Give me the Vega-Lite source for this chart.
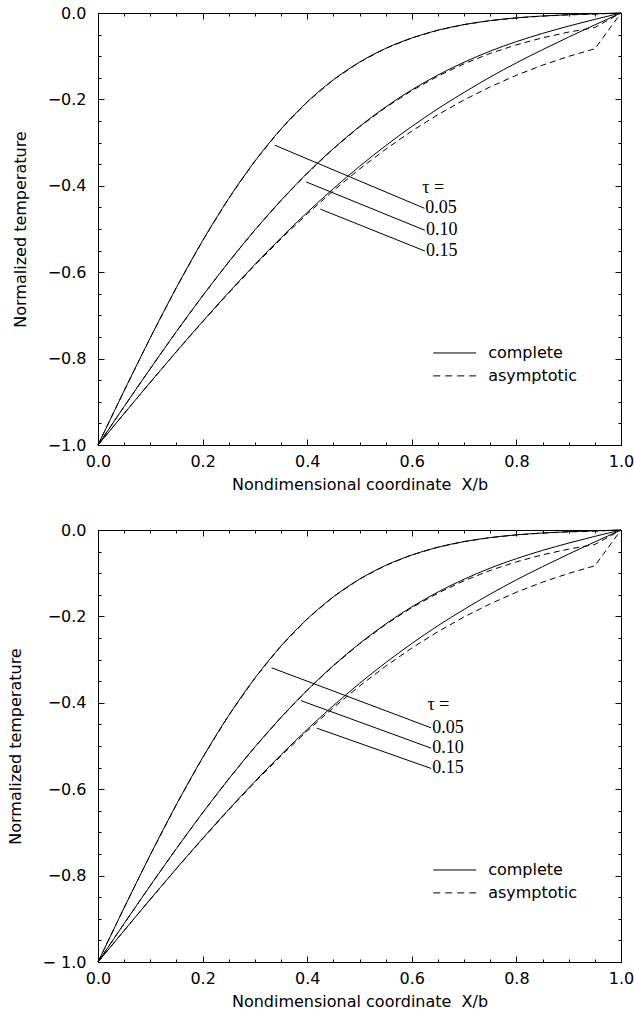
{
  "$schema": "https://vega.github.io/schema/vega-lite/v6.json",
  "background": "white",
  "padding": {"left": 6, "top": 4, "right": 2, "bottom": 4},
  "spacing": 28,
  "config": {
    "view": {"stroke": "black", "strokeWidth": 1},
    "axis": {
      "grid": false, "domain": false, "ticks": true, "tickColor": "black", "tickWidth": 1,
      "labelFont": "DejaVu Sans", "labelFontSize": 16, "labelColor": "black",
      "titleFont": "DejaVu Sans", "titleFontSize": 16, "titleFontWeight": "normal", "titleColor": "black",
      "labelOverlap": false, "labelFlush": false, "labelBound": false
    }
  },
  "datasets": {
    "curves": [
      {"x":0,"T":-1,"tau":"0.05","kind":"complete"},{"x":0.05,"T":-0.8744,"tau":"0.05","kind":"complete"},{"x":0.1,"T":-0.7518,"tau":"0.05","kind":"complete"},{"x":0.15,"T":-0.6353,"tau":"0.05","kind":"complete"},{"x":0.2,"T":-0.5271,"tau":"0.05","kind":"complete"},{"x":0.25,"T":-0.4292,"tau":"0.05","kind":"complete"},{"x":0.3,"T":-0.3428,"tau":"0.05","kind":"complete"},{"x":0.35,"T":-0.2684,"tau":"0.05","kind":"complete"},{"x":0.4,"T":-0.2059,"tau":"0.05","kind":"complete"},{"x":0.45,"T":-0.1547,"tau":"0.05","kind":"complete"},{"x":0.5,"T":-0.1138,"tau":"0.05","kind":"complete"},{"x":0.55,"T":-0.082,"tau":"0.05","kind":"complete"},{"x":0.6,"T":-0.0578,"tau":"0.05","kind":"complete"},{"x":0.65,"T":-0.0398,"tau":"0.05","kind":"complete"},{"x":0.7,"T":-0.0268,"tau":"0.05","kind":"complete"},{"x":0.75,"T":-0.0176,"tau":"0.05","kind":"complete"},{"x":0.8,"T":-0.0112,"tau":"0.05","kind":"complete"},{"x":0.85,"T":-0.0069,"tau":"0.05","kind":"complete"},{"x":0.9,"T":-0.0039,"tau":"0.05","kind":"complete"},{"x":0.95,"T":-0.0018,"tau":"0.05","kind":"complete"},{"x":1,"T":0,"tau":"0.05","kind":"complete"},
      {"x":0,"T":-1,"tau":"0.05","kind":"asymptotic"},{"x":0.05,"T":-0.8744,"tau":"0.05","kind":"asymptotic"},{"x":0.1,"T":-0.7518,"tau":"0.05","kind":"asymptotic"},{"x":0.15,"T":-0.6353,"tau":"0.05","kind":"asymptotic"},{"x":0.2,"T":-0.5271,"tau":"0.05","kind":"asymptotic"},{"x":0.25,"T":-0.4292,"tau":"0.05","kind":"asymptotic"},{"x":0.3,"T":-0.3428,"tau":"0.05","kind":"asymptotic"},{"x":0.35,"T":-0.2684,"tau":"0.05","kind":"asymptotic"},{"x":0.4,"T":-0.2059,"tau":"0.05","kind":"asymptotic"},{"x":0.45,"T":-0.1547,"tau":"0.05","kind":"asymptotic"},{"x":0.5,"T":-0.1138,"tau":"0.05","kind":"asymptotic"},{"x":0.55,"T":-0.082,"tau":"0.05","kind":"asymptotic"},{"x":0.6,"T":-0.0578,"tau":"0.05","kind":"asymptotic"},{"x":0.65,"T":-0.0398,"tau":"0.05","kind":"asymptotic"},{"x":0.7,"T":-0.0268,"tau":"0.05","kind":"asymptotic"},{"x":0.75,"T":-0.0177,"tau":"0.05","kind":"asymptotic"},{"x":0.8,"T":-0.0114,"tau":"0.05","kind":"asymptotic"},{"x":0.85,"T":-0.0072,"tau":"0.05","kind":"asymptotic"},{"x":0.9,"T":-0.0044,"tau":"0.05","kind":"asymptotic"},{"x":0.95,"T":-0.0027,"tau":"0.05","kind":"asymptotic"},{"x":1,"T":0,"tau":"0.05","kind":"asymptotic"},
      {"x":0,"T":-1,"tau":"0.10","kind":"complete"},{"x":0.05,"T":-0.911,"tau":"0.10","kind":"complete"},{"x":0.1,"T":-0.8231,"tau":"0.10","kind":"complete"},{"x":0.15,"T":-0.7373,"tau":"0.10","kind":"complete"},{"x":0.2,"T":-0.6547,"tau":"0.10","kind":"complete"},{"x":0.25,"T":-0.5761,"tau":"0.10","kind":"complete"},{"x":0.3,"T":-0.5022,"tau":"0.10","kind":"complete"},{"x":0.35,"T":-0.4337,"tau":"0.10","kind":"complete"},{"x":0.4,"T":-0.3707,"tau":"0.10","kind":"complete"},{"x":0.45,"T":-0.3138,"tau":"0.10","kind":"complete"},{"x":0.5,"T":-0.2628,"tau":"0.10","kind":"complete"},{"x":0.55,"T":-0.2176,"tau":"0.10","kind":"complete"},{"x":0.6,"T":-0.1779,"tau":"0.10","kind":"complete"},{"x":0.65,"T":-0.1436,"tau":"0.10","kind":"complete"},{"x":0.7,"T":-0.1139,"tau":"0.10","kind":"complete"},{"x":0.75,"T":-0.0882,"tau":"0.10","kind":"complete"},{"x":0.8,"T":-0.0663,"tau":"0.10","kind":"complete"},{"x":0.85,"T":-0.0472,"tau":"0.10","kind":"complete"},{"x":0.9,"T":-0.0303,"tau":"0.10","kind":"complete"},{"x":0.95,"T":-0.0147,"tau":"0.10","kind":"complete"},{"x":1,"T":0,"tau":"0.10","kind":"complete"},
      {"x":0,"T":-1,"tau":"0.10","kind":"asymptotic"},{"x":0.05,"T":-0.911,"tau":"0.10","kind":"asymptotic"},{"x":0.1,"T":-0.8231,"tau":"0.10","kind":"asymptotic"},{"x":0.15,"T":-0.7373,"tau":"0.10","kind":"asymptotic"},{"x":0.2,"T":-0.6547,"tau":"0.10","kind":"asymptotic"},{"x":0.25,"T":-0.5762,"tau":"0.10","kind":"asymptotic"},{"x":0.3,"T":-0.5023,"tau":"0.10","kind":"asymptotic"},{"x":0.35,"T":-0.4339,"tau":"0.10","kind":"asymptotic"},{"x":0.4,"T":-0.3711,"tau":"0.10","kind":"asymptotic"},{"x":0.45,"T":-0.3143,"tau":"0.10","kind":"asymptotic"},{"x":0.5,"T":-0.2636,"tau":"0.10","kind":"asymptotic"},{"x":0.55,"T":-0.2188,"tau":"0.10","kind":"asymptotic"},{"x":0.6,"T":-0.1797,"tau":"0.10","kind":"asymptotic"},{"x":0.65,"T":-0.1461,"tau":"0.10","kind":"asymptotic"},{"x":0.7,"T":-0.1175,"tau":"0.10","kind":"asymptotic"},{"x":0.75,"T":-0.0935,"tau":"0.10","kind":"asymptotic"},{"x":0.8,"T":-0.0736,"tau":"0.10","kind":"asymptotic"},{"x":0.85,"T":-0.0574,"tau":"0.10","kind":"asymptotic"},{"x":0.9,"T":-0.0442,"tau":"0.10","kind":"asymptotic"},{"x":0.95,"T":-0.0336,"tau":"0.10","kind":"asymptotic"},{"x":1,"T":0,"tau":"0.10","kind":"asymptotic"},
      {"x":0,"T":-1,"tau":"0.15","kind":"complete"},{"x":0.05,"T":-0.9271,"tau":"0.15","kind":"complete"},{"x":0.1,"T":-0.8546,"tau":"0.15","kind":"complete"},{"x":0.15,"T":-0.7835,"tau":"0.15","kind":"complete"},{"x":0.2,"T":-0.714,"tau":"0.15","kind":"complete"},{"x":0.25,"T":-0.6467,"tau":"0.15","kind":"complete"},{"x":0.3,"T":-0.582,"tau":"0.15","kind":"complete"},{"x":0.35,"T":-0.5202,"tau":"0.15","kind":"complete"},{"x":0.4,"T":-0.4617,"tau":"0.15","kind":"complete"},{"x":0.45,"T":-0.4066,"tau":"0.15","kind":"complete"},{"x":0.5,"T":-0.3551,"tau":"0.15","kind":"complete"},{"x":0.55,"T":-0.3072,"tau":"0.15","kind":"complete"},{"x":0.6,"T":-0.2627,"tau":"0.15","kind":"complete"},{"x":0.65,"T":-0.2215,"tau":"0.15","kind":"complete"},{"x":0.7,"T":-0.1838,"tau":"0.15","kind":"complete"},{"x":0.75,"T":-0.1483,"tau":"0.15","kind":"complete"},{"x":0.8,"T":-0.1154,"tau":"0.15","kind":"complete"},{"x":0.85,"T":-0.0849,"tau":"0.15","kind":"complete"},{"x":0.9,"T":-0.0557,"tau":"0.15","kind":"complete"},{"x":0.95,"T":-0.0275,"tau":"0.15","kind":"complete"},{"x":1,"T":0,"tau":"0.15","kind":"complete"},
      {"x":0,"T":-1,"tau":"0.15","kind":"asymptotic"},{"x":0.05,"T":-0.9273,"tau":"0.15","kind":"asymptotic"},{"x":0.1,"T":-0.8551,"tau":"0.15","kind":"asymptotic"},{"x":0.15,"T":-0.7842,"tau":"0.15","kind":"asymptotic"},{"x":0.2,"T":-0.715,"tau":"0.15","kind":"asymptotic"},{"x":0.25,"T":-0.6481,"tau":"0.15","kind":"asymptotic"},{"x":0.3,"T":-0.5839,"tau":"0.15","kind":"asymptotic"},{"x":0.35,"T":-0.5228,"tau":"0.15","kind":"asymptotic"},{"x":0.4,"T":-0.4652,"tau":"0.15","kind":"asymptotic"},{"x":0.45,"T":-0.4113,"tau":"0.15","kind":"asymptotic"},{"x":0.5,"T":-0.3613,"tau":"0.15","kind":"asymptotic"},{"x":0.55,"T":-0.3153,"tau":"0.15","kind":"asymptotic"},{"x":0.6,"T":-0.2733,"tau":"0.15","kind":"asymptotic"},{"x":0.65,"T":-0.2353,"tau":"0.15","kind":"asymptotic"},{"x":0.7,"T":-0.2012,"tau":"0.15","kind":"asymptotic"},{"x":0.75,"T":-0.1709,"tau":"0.15","kind":"asymptotic"},{"x":0.8,"T":-0.1441,"tau":"0.15","kind":"asymptotic"},{"x":0.85,"T":-0.1207,"tau":"0.15","kind":"asymptotic"},{"x":0.9,"T":-0.1004,"tau":"0.15","kind":"asymptotic"},{"x":0.95,"T":-0.0828,"tau":"0.15","kind":"asymptotic"},{"x":1,"T":0,"tau":"0.15","kind":"asymptotic"}
    ],
    "leadersTop": [
      {"tau":"0.05","x1":0.338,"y1":-0.306,"x2":0.624,"y2":-0.452},
      {"tau":"0.10","x1":0.398,"y1":-0.391,"x2":0.625,"y2":-0.503},
      {"tau":"0.15","x1":0.425,"y1":-0.454,"x2":0.625,"y2":-0.551}
    ],
    "leadersBottom": [
      {"tau":"0.05","x1":0.332,"y1":-0.319,"x2":0.637,"y2":-0.458},
      {"tau":"0.10","x1":0.388,"y1":-0.395,"x2":0.637,"y2":-0.505},
      {"tau":"0.15","x1":0.419,"y1":-0.459,"x2":0.637,"y2":-0.552}
    ],
    "one": [{}]
  },
  "vconcat": [
    {
      "width": 523, "height": 432,
      "resolve": {"axis": {"x": "independent", "y": "independent"}},
      "layer": [
        {
          "data": {"name": "curves"},
          "transform": [{"filter": "datum.kind == 'complete'"}],
          "mark": {"type": "line", "interpolate": "monotone", "color": "black", "strokeWidth": 1},
          "encoding": {
            "x": {"field": "x", "type": "quantitative", "scale": {"domain": [0, 1], "nice": false, "zero": false},
              "axis": {"orient": "bottom", "title": "Nondimensional coordinate\u00a0 X/b", "values": [0,0.2,0.4,0.6,0.8,1], "format": ".1f", "tickSize": -6, "labelPadding": 14, "titlePadding": 7}},
            "y": {"field": "T", "type": "quantitative", "scale": {"domain": [-1, 0], "nice": false, "zero": false},
              "axis": {"orient": "left", "title": "Normalized temperature", "values": [-1,-0.8,-0.6,-0.4,-0.2,0], "format": ".1f", "tickSize": -6, "labelPadding": 18, "titlePadding": 19}},
            "detail": {"field": "tau"}
          }
        },
        {
          "data": {"name": "curves"},
          "transform": [{"filter": "datum.kind == 'asymptotic'"}],
          "mark": {"type": "line", "color": "black", "strokeWidth": 1, "strokeDash": [6, 4]},
          "encoding": {
            "x": {"field": "x", "type": "quantitative", "axis": {"orient": "top", "title": null, "labels": false, "values": [0,0.2,0.4,0.6,0.8,1], "tickSize": -6}},
            "y": {"field": "T", "type": "quantitative", "axis": {"orient": "right", "title": null, "labels": false, "values": [-1,-0.8,-0.6,-0.4,-0.2,0], "tickSize": -6}},
            "detail": {"field": "tau"}
          }
        },
        {
          "data": {"name": "leadersTop"},
          "mark": {"type": "rule", "color": "black", "strokeWidth": 1},
          "encoding": {
            "x": {"field": "x1", "type": "quantitative", "axis": {"orient": "bottom", "title": null, "labels": false, "values": [0,0.05,0.1,0.15,0.2,0.25,0.3,0.35,0.4,0.45,0.5,0.55,0.6,0.65,0.7,0.75,0.8,0.85,0.9,0.95,1], "tickSize": -3}},
            "y": {"field": "y1", "type": "quantitative", "axis": {"orient": "left", "title": null, "labels": false, "values": [-1,-0.95,-0.9,-0.85,-0.8,-0.75,-0.7,-0.65,-0.6,-0.55,-0.5,-0.45,-0.4,-0.35,-0.3,-0.25,-0.2,-0.15,-0.1,-0.05,0], "tickSize": -3}},
            "x2": {"field": "x2"},
            "y2": {"field": "y2"}
          }
        },
        {
          "data": {"name": "leadersTop"},
          "mark": {"type": "text", "align": "left", "baseline": "middle", "dx": 1, "font": "Liberation Serif", "fontSize": 18, "color": "black"},
          "encoding": {
            "x": {"field": "x2", "type": "quantitative", "axis": {"orient": "top", "title": null, "labels": false, "values": [0,0.05,0.1,0.15,0.2,0.25,0.3,0.35,0.4,0.45,0.5,0.55,0.6,0.65,0.7,0.75,0.8,0.85,0.9,0.95,1], "tickSize": -3}},
            "y": {"field": "y2", "type": "quantitative", "axis": {"orient": "right", "title": null, "labels": false, "values": [-1,-0.95,-0.9,-0.85,-0.8,-0.75,-0.7,-0.65,-0.6,-0.55,-0.5,-0.45,-0.4,-0.35,-0.3,-0.25,-0.2,-0.15,-0.1,-0.05,0], "tickSize": -3}},
            "text": {"field": "tau"}
          }
        },
        {
          "data": {"name": "one"},
          "mark": {"type": "text", "align": "left", "baseline": "middle", "font": "Liberation Serif", "fontSize": 18, "color": "black"},
          "encoding": {
            "x": {"datum": 0.62, "type": "quantitative", "axis": null},
            "y": {"datum": -0.404, "type": "quantitative", "axis": null},
            "text": {"value": "τ ="}
          }
        },
        {
          "data": {"name": "one"},
          "mark": {"type": "rule", "color": "black", "strokeWidth": 1},
          "encoding": {
            "x": {"datum": 0.641, "type": "quantitative", "axis": null},
            "x2": {"datum": 0.723},
            "y": {"datum": -0.787, "type": "quantitative", "axis": null}
          }
        },
        {
          "data": {"name": "one"},
          "mark": {"type": "rule", "color": "black", "strokeWidth": 1, "strokeDash": [7, 5]},
          "encoding": {
            "x": {"datum": 0.641, "type": "quantitative", "axis": null},
            "x2": {"datum": 0.723},
            "y": {"datum": -0.84, "type": "quantitative", "axis": null}
          }
        },
        {
          "data": {"name": "one"},
          "mark": {"type": "text", "align": "left", "baseline": "middle", "font": "DejaVu Sans", "fontSize": 16, "color": "black"},
          "encoding": {
            "x": {"datum": 0.746, "type": "quantitative", "axis": null},
            "y": {"datum": -0.787, "type": "quantitative", "axis": null},
            "text": {"value": "complete"}
          }
        },
        {
          "data": {"name": "one"},
          "mark": {"type": "text", "align": "left", "baseline": "middle", "font": "DejaVu Sans", "fontSize": 16, "color": "black"},
          "encoding": {
            "x": {"datum": 0.746, "type": "quantitative", "axis": null},
            "y": {"datum": -0.84, "type": "quantitative", "axis": null},
            "text": {"value": "asymptotic"}
          }
        }
      ]
    },
    {
      "width": 523, "height": 432,
      "resolve": {"axis": {"x": "independent", "y": "independent"}},
      "layer": [
        {
          "data": {"name": "curves"},
          "transform": [{"filter": "datum.kind == 'complete'"}],
          "mark": {"type": "line", "interpolate": "monotone", "color": "black", "strokeWidth": 1},
          "encoding": {
            "x": {"field": "x", "type": "quantitative", "scale": {"domain": [0, 1], "nice": false, "zero": false},
              "axis": {"orient": "bottom", "title": "Nondimensional coordinate\u00a0 X/b", "values": [0,0.2,0.4,0.6,0.8,1], "format": ".1f", "tickSize": -6, "labelPadding": 14, "titlePadding": 7}},
            "y": {"field": "T", "type": "quantitative", "scale": {"domain": [-1, 0], "nice": false, "zero": false},
              "axis": {"orient": "left", "title": "Normalized temperature", "values": [-1,-0.8,-0.6,-0.4,-0.2,0], "labelExpr": "datum.value == -1 ? '\u2212 1.0' : format(datum.value, '.1f')", "tickSize": -6, "labelPadding": 18, "titlePadding": 19}},
            "detail": {"field": "tau"}
          }
        },
        {
          "data": {"name": "curves"},
          "transform": [{"filter": "datum.kind == 'asymptotic'"}],
          "mark": {"type": "line", "color": "black", "strokeWidth": 1, "strokeDash": [6, 4]},
          "encoding": {
            "x": {"field": "x", "type": "quantitative", "axis": {"orient": "top", "title": null, "labels": false, "values": [0,0.2,0.4,0.6,0.8,1], "tickSize": -6}},
            "y": {"field": "T", "type": "quantitative", "axis": {"orient": "right", "title": null, "labels": false, "values": [-1,-0.8,-0.6,-0.4,-0.2,0], "tickSize": -6}},
            "detail": {"field": "tau"}
          }
        },
        {
          "data": {"name": "leadersBottom"},
          "mark": {"type": "rule", "color": "black", "strokeWidth": 1},
          "encoding": {
            "x": {"field": "x1", "type": "quantitative", "axis": {"orient": "bottom", "title": null, "labels": false, "values": [0,0.05,0.1,0.15,0.2,0.25,0.3,0.35,0.4,0.45,0.5,0.55,0.6,0.65,0.7,0.75,0.8,0.85,0.9,0.95,1], "tickSize": -3}},
            "y": {"field": "y1", "type": "quantitative", "axis": {"orient": "left", "title": null, "labels": false, "values": [-1,-0.95,-0.9,-0.85,-0.8,-0.75,-0.7,-0.65,-0.6,-0.55,-0.5,-0.45,-0.4,-0.35,-0.3,-0.25,-0.2,-0.15,-0.1,-0.05,0], "tickSize": -3}},
            "x2": {"field": "x2"},
            "y2": {"field": "y2"}
          }
        },
        {
          "data": {"name": "leadersBottom"},
          "mark": {"type": "text", "align": "left", "baseline": "middle", "dx": 1, "font": "Liberation Serif", "fontSize": 18, "color": "black"},
          "encoding": {
            "x": {"field": "x2", "type": "quantitative", "axis": {"orient": "top", "title": null, "labels": false, "values": [0,0.05,0.1,0.15,0.2,0.25,0.3,0.35,0.4,0.45,0.5,0.55,0.6,0.65,0.7,0.75,0.8,0.85,0.9,0.95,1], "tickSize": -3}},
            "y": {"field": "y2", "type": "quantitative", "axis": {"orient": "right", "title": null, "labels": false, "values": [-1,-0.95,-0.9,-0.85,-0.8,-0.75,-0.7,-0.65,-0.6,-0.55,-0.5,-0.45,-0.4,-0.35,-0.3,-0.25,-0.2,-0.15,-0.1,-0.05,0], "tickSize": -3}},
            "text": {"field": "tau"}
          }
        },
        {
          "data": {"name": "one"},
          "mark": {"type": "text", "align": "left", "baseline": "middle", "font": "Liberation Serif", "fontSize": 18, "color": "black"},
          "encoding": {
            "x": {"datum": 0.63, "type": "quantitative", "axis": null},
            "y": {"datum": -0.406, "type": "quantitative", "axis": null},
            "text": {"value": "τ ="}
          }
        },
        {
          "data": {"name": "one"},
          "mark": {"type": "rule", "color": "black", "strokeWidth": 1},
          "encoding": {
            "x": {"datum": 0.641, "type": "quantitative", "axis": null},
            "x2": {"datum": 0.723},
            "y": {"datum": -0.787, "type": "quantitative", "axis": null}
          }
        },
        {
          "data": {"name": "one"},
          "mark": {"type": "rule", "color": "black", "strokeWidth": 1, "strokeDash": [7, 5]},
          "encoding": {
            "x": {"datum": 0.641, "type": "quantitative", "axis": null},
            "x2": {"datum": 0.723},
            "y": {"datum": -0.84, "type": "quantitative", "axis": null}
          }
        },
        {
          "data": {"name": "one"},
          "mark": {"type": "text", "align": "left", "baseline": "middle", "font": "DejaVu Sans", "fontSize": 16, "color": "black"},
          "encoding": {
            "x": {"datum": 0.746, "type": "quantitative", "axis": null},
            "y": {"datum": -0.787, "type": "quantitative", "axis": null},
            "text": {"value": "complete"}
          }
        },
        {
          "data": {"name": "one"},
          "mark": {"type": "text", "align": "left", "baseline": "middle", "font": "DejaVu Sans", "fontSize": 16, "color": "black"},
          "encoding": {
            "x": {"datum": 0.746, "type": "quantitative", "axis": null},
            "y": {"datum": -0.84, "type": "quantitative", "axis": null},
            "text": {"value": "asymptotic"}
          }
        }
      ]
    }
  ]
}
